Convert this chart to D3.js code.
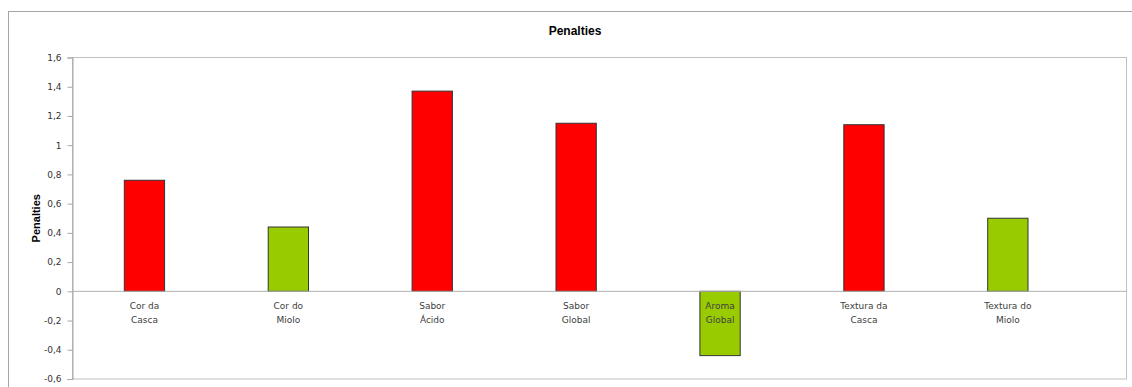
<!DOCTYPE html>
<html>
<head>
<meta charset="utf-8">
<script src="https://cdn.jsdelivr.net/npm/d3@7"></script>
<style>
  body { margin: 0; background: #fff; }
  svg { display: block; font-family: "Liberation Sans", Arial, sans-serif; }
</style>
</head>
<body>
<div id="chart"></div>
<script>
// data
let categories = [["Cor da", "Casca"], ["Cor do", "Miolo"], ["Sabor", "Ácido"], ["Sabor", "Global"],
                  ["Aroma", "Global"], ["Textura da", "Casca"], ["Textura do", "Miolo"]];
let penalties = [0.76, 0.44, 1.37, 1.15, -0.44, 1.14, 0.50];
let barColors = ["#ff0000", "#99cc00", "#ff0000", "#ff0000", "#99cc00", "#ff0000", "#99cc00"];
let yTicks = [-0.6, -0.4, -0.2, 0, 0.2, 0.4, 0.6, 0.8, 1, 1.2, 1.4, 1.6];

let W = 1132, H = 387;
let plot = {left: 72.5, top: 57.5, right: 1126.5, bottom: 379};

let svg = d3.select("#chart")
              .append("svg")
                .attr("width", W)
                .attr("height", H)
;

// outer chart frame
svg.append("rect")
    .attr("x", 8.5).attr("y", 11.5)
    .attr("width", W).attr("height", H)
    .attr("fill", "none")
    .attr("stroke", "#a6a6a6");

let y = d3.scaleLinear().domain([-0.6, 1.6]).range([plot.bottom, plot.top]);
let x = d3.scaleBand()
            .domain(d3.range(categories.length))
            .range([plot.left, plot.left + 7 * 143.9])
            .paddingInner(0.72)
            .paddingOuter(0.36);

// plot area frame
svg.append("rect")
    .attr("x", plot.left).attr("y", plot.top)
    .attr("width", plot.right - plot.left).attr("height", plot.bottom - plot.top)
    .attr("fill", "none")
    .attr("stroke", "#c0c0c0");

// title
svg.append("text")
    .attr("x", 575).attr("y", 35)
    .attr("text-anchor", "middle")
    .attr("font-size", 12).attr("font-weight", "bold")
    .text("Penalties");

// y axis
let yAxis = svg.append("g")
    .attr("transform", "translate(" + plot.left + ",0)")
    .call(d3.axisLeft(y).tickValues(yTicks).tickSize(5).tickPadding(6)
            .tickFormat(d => String(+d.toFixed(1)).replace(".", ",")));
yAxis.select(".domain").attr("stroke", "#a6a6a6");
yAxis.selectAll(".tick line").attr("stroke", "#a6a6a6");
yAxis.selectAll(".tick text").attr("fill", "#333")
    .attr("font-family", "DejaVu Sans, sans-serif").style("font-size", "9px");

svg.append("text")
    .attr("transform", "translate(40," + ((plot.top + plot.bottom) / 2) + ") rotate(-90)")
    .attr("text-anchor", "middle")
    .attr("font-size", 11).attr("font-weight", "bold")
    .text("Penalties");

// bars
svg.selectAll(".bar")
    .data(penalties)
    .enter().append("rect")
      .attr("class", "bar")
      .attr("x", (d, i) => x(i))
      .attr("width", x.bandwidth())
      .attr("y", d => y(Math.max(0, d)))
      .attr("height", d => Math.abs(y(d) - y(0)))
      .attr("fill", (d, i) => barColors[i])
      .attr("stroke", "#333")
      .attr("stroke-width", 1);

// zero line
svg.append("line")
    .attr("x1", plot.left).attr("x2", plot.right)
    .attr("y1", y(0)).attr("y2", y(0))
    .attr("stroke", "#b0b0b0");

// category labels
let labels = svg.selectAll(".cat")
    .data(categories)
    .enter().append("text")
      .attr("class", "cat")
      .attr("text-anchor", "middle")
      .attr("font-size", 9)
      .attr("font-family", "DejaVu Sans, sans-serif")
      .attr("fill", "#404040");
labels.each(function(d, i) {
  let t = d3.select(this);
  d.forEach((line, k) => {
    t.append("tspan")
      .attr("x", x(i) + x.bandwidth() / 2)
      .attr("y", 309 + k * 13.5)
      .text(line);
  });
});
</script>
</body>
</html>
